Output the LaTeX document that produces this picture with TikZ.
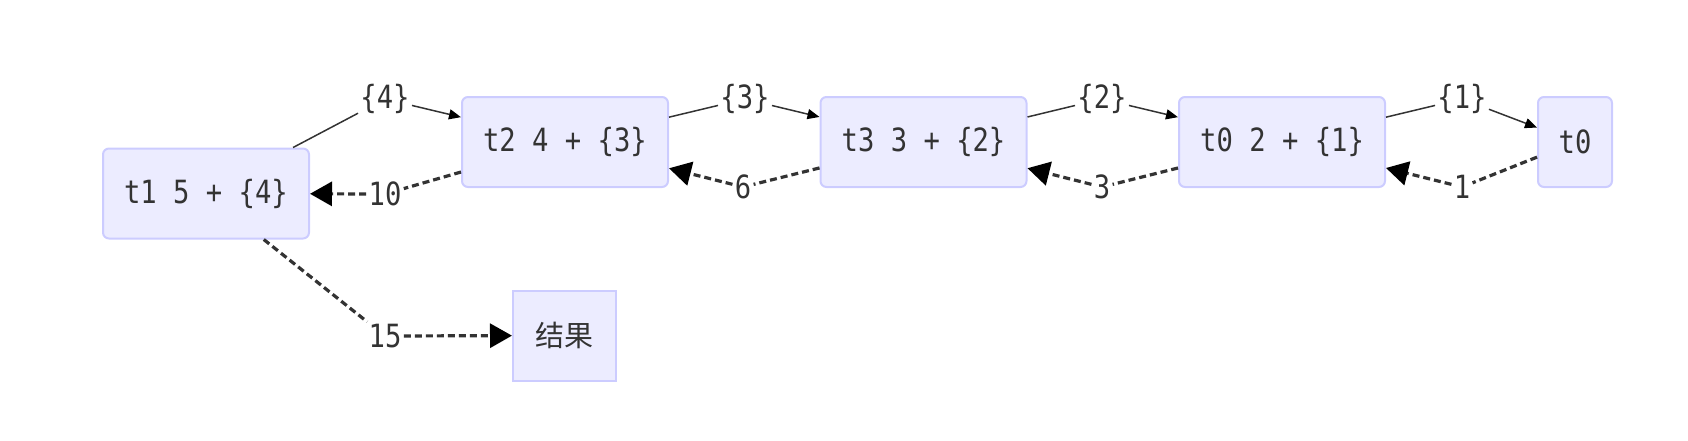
\documentclass[tikz,border=0pt]{standalone}
\usepackage{fontspec}
\usetikzlibrary{arrows.meta}
\newfontfamily\codefont[FakeStretch=0.85]{DejaVu Sans Mono}
\newfontfamily\cjkfont{Noto Sans CJK SC}
\definecolor{boxfill}{HTML}{ECECFF}
\definecolor{boxline}{HTML}{CCCCFF}
\definecolor{ink}{HTML}{333333}

\begin{document}
\begin{tikzpicture}[x=0.5pt, y=-0.5pt,
	state/.style={draw=boxline, fill=boxfill, line width=1pt, rounded corners=3pt,
		minimum width=103pt, minimum height=45pt, text=ink,
		font=\codefont\fontsize{16}{18}\selectfont},
	tag/.style={inner sep=1pt, text=ink, font=\codefont\fontsize{16}{18}\selectfont},
	flow/.style={draw=ink, line width=0.75pt, -{Triangle[length=6pt,width=5pt,color=black]}},
	back/.style={draw=ink, line width=1.6pt, dash pattern=on 3.5pt off 2pt,
		-{Triangle[length=11pt,width=12pt,color=black]}}]

	\useasboundingbox (0,0) rectangle (1688,440);

	% the chain of calls
	\node[state] (t1) at (206,193.5) {t1 5 + \{4\}};
	\node[state] (t2) at (565,142) {t2 4 + \{3\}};
	\node[state] (t3) at (923.5,142) {t3 3 + \{2\}};
	\node[state] (t0a) at (1282,142) {t0 2 + \{1\}};
	\node[state, minimum width=37pt] (t0) at (1575,142) {t0};
	\node[state, rounded corners=0pt, minimum width=51.5pt, font=\cjkfont\fontsize{14.5}{16}\selectfont] (res) at (564.5,335.5) {结果};

	% labels on the way down
	\node[tag] (l4) at (385,99) {\{4\}};
	\node[tag] (l3) at (745,99) {\{3\}};
	\node[tag] (l2) at (1102,99) {\{2\}};
	\node[tag] (l1) at (1462,99) {\{1\}};

	% labels on the way back
	\node[tag] (r10) at (385,194) {10};
	\node[tag] (r6) at (743,187) {6};
	\node[tag] (r3) at (1102,187) {3};
	\node[tag] (r1) at (1462,187) {1};
	\node[tag] (r15) at (385,336) {15};

	\draw[flow] (t1) -- (l4) -- (t2);
	\draw[flow] (t2) -- (l3) -- (t3);
	\draw[flow] (t3) -- (l2) -- (t0a);
	\draw[flow] (t0a) -- (l1) -- (t0);

	\draw[back] (t0) -- (r1) -- (t0a);
	\draw[back] (t0a) -- (r3) -- (t3);
	\draw[back] (t3) -- (r6) -- (t2);
	\draw[back] (t2) -- (r10) -- (t1);
	\draw[back] (t1) -- (r15) -- (res);

\end{tikzpicture}
\end{document}
